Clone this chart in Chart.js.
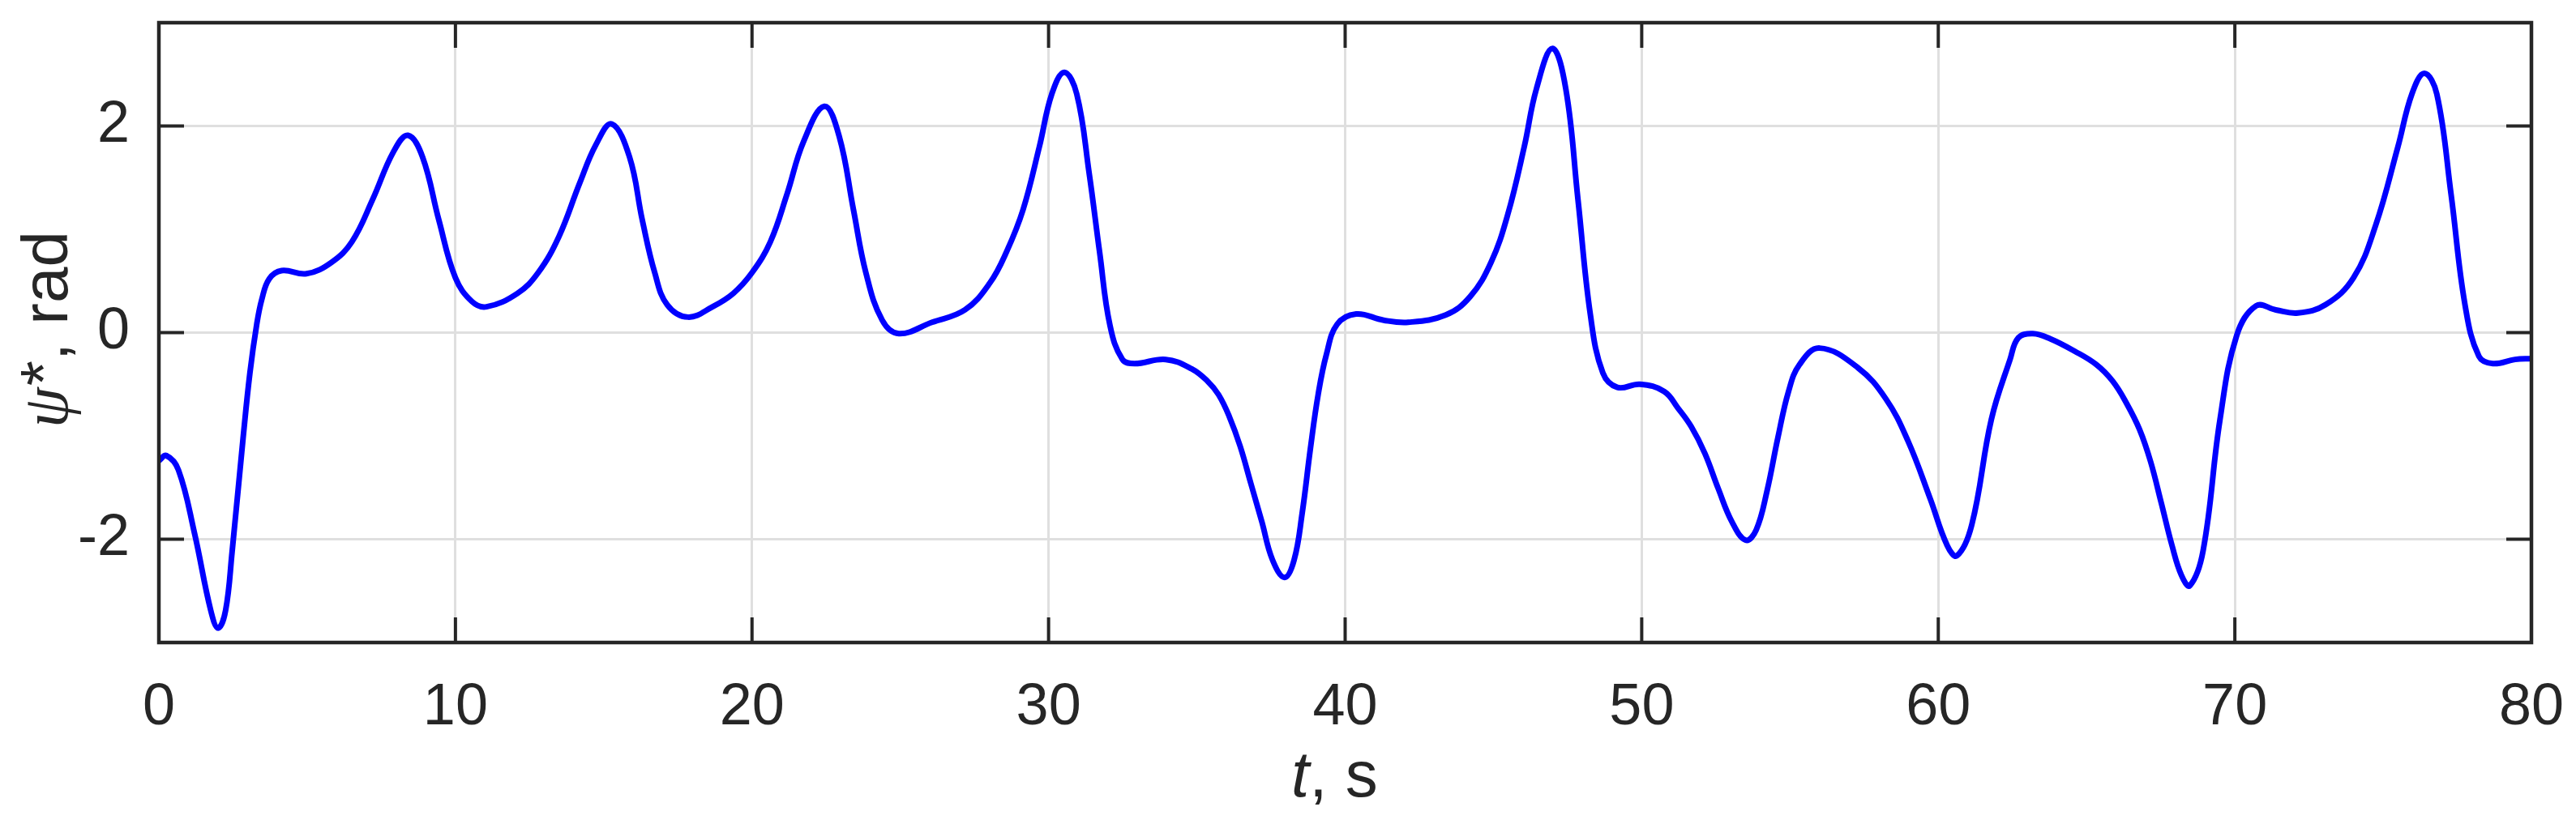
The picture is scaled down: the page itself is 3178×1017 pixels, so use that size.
<!DOCTYPE html>
<html>
<head>
<meta charset="utf-8">
<script src="https://cdn.jsdelivr.net/npm/chart.js@4/dist/chart.umd.min.js"></script>
<style>
  html, body { margin: 0; padding: 0; background: #ffffff; }
  canvas { display: block; }
</style>
</head>
<body>
<canvas id="chart" width="3178" height="1017"></canvas>
<script>
// time, s
const tValues = [
  0, 0.25, 0.66, 1.20, 1.75, 2.00, 2.25, 2.47, 2.84, 3.07,
  3.30, 3.47, 3.72, 4.14, 4.98, 5.82, 6.51, 7.21, 7.91, 8.40,
  8.89, 9.44, 10.0, 10.56, 11.05, 12.09, 12.79, 13.49, 14.18, 14.74,
  15.27, 15.87, 16.30, 16.72, 17.14, 17.84, 18.67, 19.37, 20.0, 20.62,
  21.18, 21.74, 22.44, 22.94, 23.42, 23.84, 24.39, 24.95, 26.07, 27.18,
  28.02, 28.58, 29.14, 29.69, 30.11, 30.53, 30.95, 31.37, 31.72, 32.07,
  32.49, 32.90, 33.95, 34.82, 35.36, 35.73, 36.09, 36.46, 36.82, 37.19,
  37.55, 37.96, 38.28, 38.55, 38.83, 39.09, 39.37, 39.73, 40.37, 41.30,
  42.13, 43.39, 44.22, 44.92, 45.48, 46.04, 46.45, 46.99, 47.44, 47.85,
  48.27, 48.69, 49.18, 49.94, 50.76, 51.22, 51.67, 52.13, 52.58, 53.04,
  53.51, 53.86, 54.22, 54.59, 54.95, 55.32, 56.0, 57.29, 58.23, 58.98,
  59.73, 60.30, 60.63, 61.13, 61.79, 62.42, 62.70, 63.19, 63.78, 64.60,
  65.33, 65.88, 66.34, 66.79, 67.16, 67.52, 67.88, 68.20, 68.48, 68.93,
  69.50, 70.06, 70.72, 71.38, 72.13, 73.06, 74.00, 74.75, 75.50, 75.97,
  76.39, 76.81, 77.29, 77.76, 78.23, 78.70, 79.45, 80
];

// psi*, rad
const psiValues = [
  -1.24, -1.19, -1.33, -1.94, -2.69, -2.86, -2.69, -2.12, -1.02, -0.39,
  0.08, 0.32, 0.52, 0.60, 0.57, 0.68, 0.88, 1.29, 1.75, 1.91,
  1.70, 1.09, 0.53, 0.30, 0.25, 0.38, 0.58, 0.93, 1.44, 1.82,
  2.02, 1.70, 1.09, 0.58, 0.27, 0.15, 0.25, 0.38, 0.58, 0.88,
  1.34, 1.85, 2.19, 1.90, 1.19, 0.58, 0.12, -0.01, 0.10, 0.22,
  0.48, 0.78, 1.19, 1.80, 2.31, 2.52, 2.31, 1.54, 0.78, 0.07,
  -0.26, -0.30, -0.26, -0.35, -0.47, -0.60, -0.81, -1.10, -1.46, -1.83,
  -2.20, -2.37, -2.20, -1.75, -1.12, -0.60, -0.21, 0.08, 0.18, 0.12,
  0.10, 0.17, 0.35, 0.68, 1.14, 1.80, 2.36, 2.75, 2.36, 1.29,
  0.17, -0.39, -0.53, -0.50, -0.57, -0.73, -0.91, -1.17, -1.51, -1.83,
  -2.01, -1.91, -1.54, -1.02, -0.57, -0.31, -0.15, -0.34, -0.64, -1.05,
  -1.61, -2.06, -2.16, -1.86, -0.84, -0.26, -0.05, -0.01, -0.06, -0.18,
  -0.31, -0.47, -0.68, -0.94, -1.25, -1.65, -2.06, -2.35, -2.45, -2.11,
  -0.84, -0.03, 0.26, 0.22, 0.19, 0.27, 0.53, 1.04, 1.80, 2.31,
  2.51, 2.31, 1.34, 0.27, -0.23, -0.30, -0.26, -0.25
];

const xTicks = [0, 10, 20, 30, 40, 50, 60, 70, 80];
const yTicks = [-2, 0, 2];

const AXIS_COLOR = '#262626';
const GRID_COLOR = '#dfdfdf';
const TICK_FONT = 72;
const LABEL_FONT = 80;

// matlab style box + inward ticks on all four sides
const boxPlugin = {
  id: 'box',
  afterDatasetsDraw(chart) {
    const { ctx, chartArea: a, scales } = chart;
    const len = 31;
    ctx.save();
    ctx.strokeStyle = AXIS_COLOR;
    ctx.lineWidth = 4;
    ctx.beginPath();
    xTicks.forEach(v => {
      const px = scales.x.getPixelForValue(v);
      ctx.moveTo(px, a.top); ctx.lineTo(px, a.top + len);
      ctx.moveTo(px, a.bottom); ctx.lineTo(px, a.bottom - len);
    });
    yTicks.forEach(v => {
      const py = scales.y.getPixelForValue(v);
      ctx.moveTo(a.left, py); ctx.lineTo(a.left + len, py);
      ctx.moveTo(a.right, py); ctx.lineTo(a.right - len, py);
    });
    ctx.stroke();
    ctx.lineWidth = 4.5;
    ctx.strokeRect(a.left, a.top, a.right - a.left, a.bottom - a.top);
    ctx.restore();
  }
};

// axis titles with italic symbols
const titlePlugin = {
  id: 'titles',
  afterDraw(chart) {
    const { ctx } = chart;
    const sans = "'Liberation Sans', Arial, sans-serif";
    const serif = "'Liberation Serif', 'DejaVu Serif', serif";
    ctx.save();
    ctx.fillStyle = AXIS_COLOR;
    ctx.textBaseline = 'alphabetic';
    ctx.textAlign = 'left';

    // x: "t, s"
    let x = 1593;
    const yBase = 983;
    ctx.font = `italic ${LABEL_FONT}px ${sans}`;
    ctx.fillText('t', x, yBase);
    x += ctx.measureText('t').width;
    ctx.font = `${LABEL_FONT}px ${sans}`;
    ctx.fillText(', s', x, yBase);

    // y: "ψ*, rad" rotated
    ctx.translate(83, 528);
    ctx.rotate(-Math.PI / 2);
    let p = 0;
    ctx.font = `italic ${LABEL_FONT}px ${serif}`;
    ctx.fillText('ψ', p, 0);
    p += ctx.measureText('ψ').width + 2;
    ctx.font = `${LABEL_FONT}px ${sans}`;
    ctx.fillText('*', p, -2);
    p += ctx.measureText('*').width;
    ctx.fillText(', rad', p, 0);
    ctx.restore();
  }
};

// no label overhang padding, keep the plot box fixed
const noPad = s => {
  s.paddingLeft = 0; s.paddingRight = 0;
  s.paddingTop = 0; s.paddingBottom = 0;
};

const points = tValues.map((t, i) => ({ x: t, y: psiValues[i] }));

new Chart(document.getElementById('chart'), {
  type: 'line',
  data: {
    datasets: [{
      data: points,
      borderColor: '#0000ff',
      borderWidth: 7,
      pointRadius: 0,
      fill: false,
      tension: 0.4
    }]
  },
  options: {
    responsive: false,
    animation: false,
    devicePixelRatio: 1,
    layout: { padding: { left: 0, right: 55, top: 28, bottom: 0 } },
    plugins: { legend: { display: false }, tooltip: { enabled: false } },
    scales: {
      x: {
        type: 'linear',
        min: 0,
        max: 80,
        afterBuildTicks: s => { s.ticks = xTicks.map(v => ({ value: v })); },
        afterFit: s => { s.height = 1017 - 793; noPad(s); },
        grid: { color: GRID_COLOR, lineWidth: 3, drawTicks: false },
        border: { display: false },
        ticks: {
          color: AXIS_COLOR,
          padding: 38,
          maxRotation: 0,
          font: { family: "'Liberation Sans', Arial, sans-serif", size: TICK_FONT }
        }
      },
      y: {
        min: -3,
        max: 3,
        afterBuildTicks: s => { s.ticks = yTicks.map(v => ({ value: v })); },
        afterFit: s => { s.width = 196; noPad(s); },
        grid: { color: GRID_COLOR, lineWidth: 3, drawTicks: false },
        border: { display: false },
        ticks: {
          color: AXIS_COLOR,
          padding: 36,
          font: { family: "'Liberation Sans', Arial, sans-serif", size: TICK_FONT }
        }
      }
    }
  },
  plugins: [boxPlugin, titlePlugin]
});
</script>
</body>
</html>
